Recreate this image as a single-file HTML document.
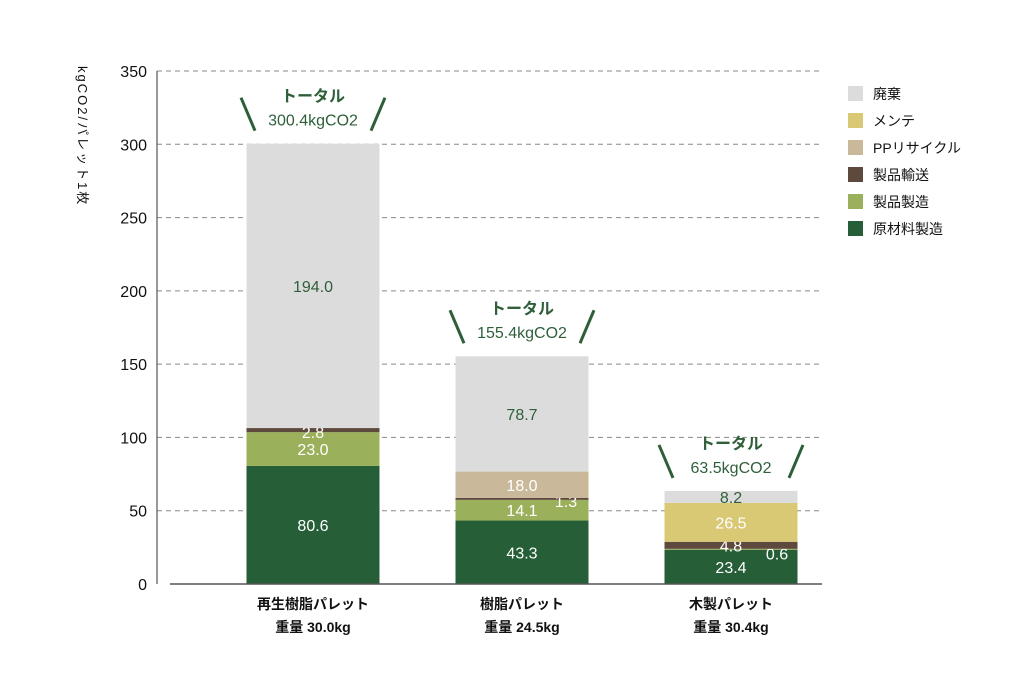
<!DOCTYPE html>
<html><head><meta charset="utf-8"><style>
body{margin:0;background:#fff;}
svg{display:block;font-family:"Liberation Sans","Noto Sans CJK JP",sans-serif;}
</style></head><body>
<svg id="c" width="1024" height="683" viewBox="0 0 1024 683"></svg>
<script>
const categories=["再生樹脂パレット","樹脂パレット","木製パレット"];
const weights=["重量 30.0kg","重量 24.5kg","重量 30.4kg"];
const seriesNames=["原材料製造","製品製造","製品輸送","PPリサイクル","メンテ","廃棄"];
const rawMat=[80.6,43.3,23.4];
const prodMfg=[23.0,14.1,0.6];
const transport=[2.8,1.3,4.8];
const recycle=[0,18.0,0];
const maint=[0,0,26.5];
const disposal=[194.0,78.7,8.2];
const totals=["300.4kgCO2","155.4kgCO2","63.5kgCO2"];
const ticks=[0,50,100,150,200,250,300,350];
const series=[rawMat,prodMfg,transport,recycle,maint,disposal];
const colors=["#255e37","#9bb05a","#5e4a3c","#c9b99a","#d9c874","#dcdcdc"];
const textCol=["#fff","#fff","#fff","#fff","#fff","#2f5f3a"];
const NS="http://www.w3.org/2000/svg";
const svg=document.getElementById("c");
function mk(t,a,txt){const e=document.createElementNS(NS,t);for(const k in a)e.setAttribute(k,a[k]);if(txt!==undefined)e.textContent=txt;svg.appendChild(e);return e;}
const y0=584,y1=71,ymax=350;
const y=v=>y0-(v/ymax)*(y0-y1);
const barW=133,xc=i=>313+i*209;
ticks.forEach(t=>{
 if(t>0){const l=mk("line",{x1:157,x2:822,y1:y(t),y2:y(t),stroke:"#888","stroke-dasharray":"5,4","stroke-width":1});
 
 }
 const tx=mk("text",{x:147,y:y(t)+6,"text-anchor":"end","font-size":16,fill:"#111"},t);
 
 
});
const ax=mk("line",{x1:157,x2:157,y1:y1,y2:y0,stroke:"#555","stroke-width":1.2});


const yt=mk("text",{x:0,y:0,"font-size":13,fill:"#111",transform:"translate(78,66) rotate(90)","letter-spacing":"2"},"kgCO2/パレット1枚");


// label offsets for tiny segments (layout only)
const off={"0-2":[0,2],"1-2":[44,2],"2-1":[46,4]};
categories.forEach((c,i)=>{
 let acc=0;
 series.forEach((s,k)=>{
  const v=s[i];if(!v)return;
  const top=y(acc+v),bot=y(acc);
  const r=mk("rect",{x:xc(i)-barW/2,y:top,width:barW,height:bot-top,fill:colors[k]});
  
  
  const o=off[i+"-"+k]||[0,0];
  const t=mk("text",{x:xc(i)+o[0],y:(top+bot)/2+6+o[1],"text-anchor":"middle","font-size":16,fill:textCol[k]},v.toFixed(1));
  
  
  acc+=v;
 });
 const tt=y(acc);
 const a=mk("text",{x:xc(i),y:tt-42,"text-anchor":"middle","font-size":16,"font-weight":"bold",fill:"#2f5f3a"},"トータル");
 
 
 const b=mk("text",{x:xc(i),y:tt-18,"text-anchor":"middle","font-size":16,fill:"#2f5f3a"},totals[i]);
 
 
 [[-72,-58],[72,58]].forEach(p=>{
  const l=mk("line",{x1:xc(i)+p[0],y1:tt-46,x2:xc(i)+p[1],y2:tt-13,stroke:"#2f5f3a","stroke-width":3});
  
  
 });
 const cl=mk("text",{x:xc(i),y:609,"text-anchor":"middle","font-size":14,"font-weight":"bold",fill:"#111"},c);
 
 
 const wl=mk("text",{x:xc(i),y:632,"text-anchor":"middle","font-size":14,"font-weight":"bold",fill:"#111"},weights[i]);
 
 
});
const base=mk("line",{x1:170,x2:822,y1:y0,y2:y0,stroke:"#555","stroke-width":1.5});


for(let k=5;k>=0;k--){
 const j=5-k,ly=86+j*27;
 const r=mk("rect",{x:848,y:ly,width:15,height:15,fill:colors[k]});
 
 
 const t=mk("text",{x:873,y:ly+13,"font-size":14,fill:"#111"},seriesNames[k]);
 
 
}
</script>
</body></html>
